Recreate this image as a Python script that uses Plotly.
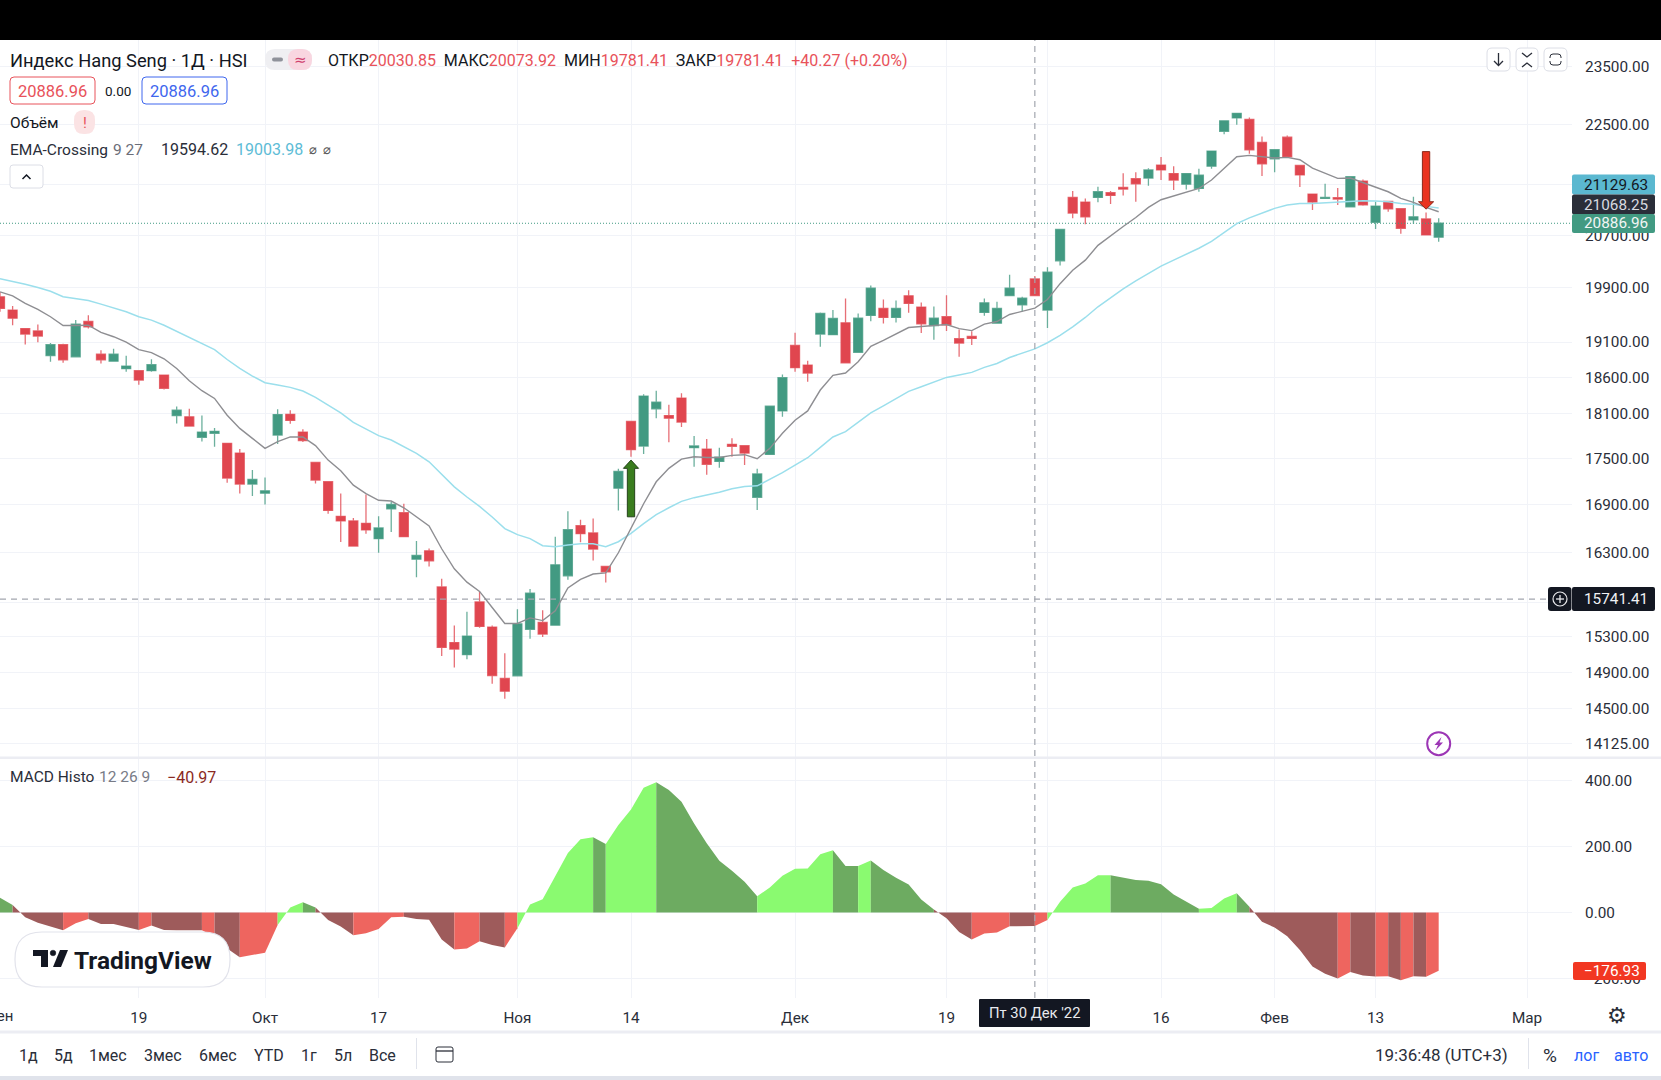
import math
import plotly.graph_objects as go

W, H = 1661, 1080

# ---------- price data (Hang Seng, daily) ----------
bar_index = list(range(115))
open_ = [
 19763,19566,19296,19262,18909,19063,18890,19399,18927,18829,
 18722,18694,18694,18633,18073,18056,17780,17834,17700,17571,
 17165,17048,17811,18091,17851,17448,17196,16754,16696,16666,
 16475,16850,16800,16223,16325,15887,15236,15098,15708,15414,
 14830,14859,15388,15468,15437,16021,16637,16546,16134,17113,
 17993,17664,18165,18073,18313,17642,17624,17461,17687,17669,
 16995,17553,18137,19053,18773,19217,19208,19380,18955,19488,
 19591,19458,19777,19610,19340,19468,19149,19183,19532,19375,
 19782,19645,20030.85,19566,20305,21297,21223,21297,21372,21457,
 21599,21610,21821,21683,21511,21441,21804,22384,22610,22583,
 22196,21926,22285,21816,21351,21281,21292,21148,21561,20903,
 21234,21116,20940,20956,20670]
high = [
 19836,19625,19296,19355,19086,19077,19419,19492,18983,19007,
 18904,18694,18857,18633,18197,18165,18073,17905,17700,17624,
 17348,17252,18160,18146,17887,17448,17196,17043,16733,17030,
 16754,16935,16913,16446,16354,15984,15433,15593,15830,15433,
 15113,15624,15862,15612,16498,16817,16712,16725,16134,17365,
 18002,18364,18415,18220,18378,17798,17758,17642,17766,17669,
 17365,18202,18642,19237,18834,19532,19566,19738,19517,19930,
 19723,19708,19861,19679,19620,19787,19281,19257,19738,19689,
 20093,19763,20073.92,20206,20789,21399,21281,21468,21399,21688,
 21704,21770,21953,21804,21694,21760,22058,22561,22699,22616,
 22296,22075,22312,21821,21351,21517,21447,21632,21588,21228,
 21234,21116,21308,21058,20967]
low = [
 19542,19345,19067,19100,18820,18806,18890,19296,18796,18829,
 18680,18498,18680,18433,17967,17931,17723,17655,17182,17043,
 17013,16904,17691,17962,17718,17174,16787,16433,16383,16537,
 16300,16558,16500,16004,16134,15083,14952,15046,15407,14770,
 14604,14859,15281,15300,15437,15972,16429,16207,15940,16829,
 17522,17558,18038,17714,17918,17391,17287,17378,17522,17413,
 16833,17544,18056,18680,18540,19035,19208,18806,18955,19404,
 19370,19384,19527,19232,19134,19262,18890,19058,19483,19375,
 19782,19547,19781.41,19306,20234,20967,20871,21218,21191,21329,
 21228,21484,21577,21415,21425,21388,21760,22334,22494,22009,
 21644,21705,21942,21463,21095,21271,21175,21148,21164,20796,
 21068,20722,20881,20705,20599]
close = [
 19591,19448,19217,19188,19063,18848,19360,19321,18848,18927,
 18759,18563,18778,18447,18146,17931,17851,17860,17243,17165,
 17226,17078,18087,18007,17736,17217,16829,16696,16383,16583,
 16608,16904,16500,16268,16203,15180,15162,15311,15422,14863,
 14689,15452,15813,15334,16154,16587,16537,16346,16069,17330,
 17615,18341,18257,18038,17985,17665,17422,17518,17660,17571,
 17296,18202,18595,18736,18661,19517,19443,18806,19448,19890,
 19458,19591,19664,19365,19448,19350,19086,19154,19674,19591,
 19890,19743,19781.41,20132,20789,21047,20988,21388,21329,21431,
 21517,21743,21743,21577,21683,21655,22053,22561,22688,22075,
 21843,22075,21959,21661,21223,21297,21271,21632,21180,21159,
 21116,20807,20988,20705,20886.96]
ema9 = [
 19836,19777,19664,19576,19468,19340,19340,19345,19242,19178,
 19100,18993,18951,18862,18726,18554,18415,18308,18078,17900,
 17766,17633,17723,17785,17785,17669,17478,17339,17152,17043,
 16957,16948,16862,16746,16633,16350,16106,15944,15834,15643,
 15456,15456,15521,15490,15605,15874,15978,16042,16056,16301,
 16600,16913,17195,17370,17491,17522,17513,17513,17540,17549,
 17496,17633,17834,18011,18137,18424,18628,18661,18820,19039,
 19125,19217,19311,19325,19340,19355,19296,19267,19360,19399,
 19502,19551,19594.62,19723,19959,20163,20315,20543,20695,20837,
 20978,21138,21260,21319,21383,21441,21577,21771,21959,21981,
 21965,21937,21948,21909,21771,21688,21605,21610,21539,21457,
 21388,21281,21218,21138,21068.25]
ema27 = [
 20034,19994,19950,19900,19846,19763,19738,19708,19654,19600,
 19542,19468,19419,19345,19257,19164,19077,18993,18852,18726,
 18619,18526,18494,18461,18410,18322,18216,18109,17980,17887,
 17802,17744,17655,17567,17456,17291,17130,16999,16879,16746,
 16600,16525,16475,16388,16375,16396,16411,16411,16375,16437,
 16540,16662,16775,16862,16944,16991,17022,17061,17104,17135,
 17143,17226,17313,17413,17509,17647,17785,17856,17980,18109,
 18206,18308,18405,18470,18540,18600,18633,18670,18741,18796,
 18881,18941,19003.98,19091,19198,19321,19458,19615,19748,19880,
 20002,20113,20224,20315,20407,20498,20604,20748,20881,20972,
 21042,21122,21175,21201,21201,21212,21223,21244,21244,21239,
 21228,21201,21186,21154,21129.63]
macd = [
 44,22,-15,-31,-43,-54,-33,-20,-35,-35,
 -43,-53,-40,-53,-54,-54,-54,-74,-109,-136,
 -129,-122,-38,15,31,15,-23,-43,-69,-63,
 -50,-15,-13,-20,-22,-82,-112,-109,-87,-99,
 -106,-48,24,40,108,180,221,227,207,264,
 311,377,394,370,335,269,209,156,126,93,
 49,75,111,132,133,176,188,140,140,157,
 128,105,84,39,9,-18,-59,-82,-64,-61,
 -42,-41,-40.97,-23,32,75,87,112,112,106,
 98,96,85,54,32,11,13,42,58,17,
 -28,-46,-72,-114,-164,-186,-200,-180,-191,-194,
 -193,-205,-193,-195,-176.93]
# bar index where the MACD colour changes, and the state of each run
macd_breaks = [0,1,5,7,11,12,16,17,19,22,24,25,28,32,36,38,40,41,47,48,52,60,66,68,69,74,77,80,82,83,88,95,98,99,106,107,109,110,111,112,113,114]
macd_states = ["dg","dr","lr","dr","lr","dr","lr","dr","lr","lg","dg","dr","lr","dr","lr","dr","lr","lg","dg","lg","dg","lg","dg","lg","dg","dr","lr","dr","lr","lg","dg","lg","dg","dr","lr","dr","lr","dr","lr","dr","lr"]

# signal arrows: bar, tail price, head base price, tip price
signal_up = (50, 16748, 17370, 17478)
signal_down = (113, 22044, 21228, 21110)

crosshair_bar = 82
crosshair_price = 15741.41
last_price = 20886.96

price_ticks = [23500,22500,21500,20700,19900,19100,18600,18100,17500,16900,16300,15700,15300,14900,14500,14125]
price_tick_text = ["23500.00","22500.00","","20700.00","19900.00","19100.00","18600.00","18100.00","17500.00","16900.00","16300.00","","15300.00","14900.00","14500.00","14125.00"]
macd_ticks = [400,200,0,-200]
macd_tick_text = ["400.00","200.00","0.00","−200.00"]
time_ticks = [0,11,21,30,41,50,63,75,83,92,101,109,121]
time_tick_text = ["","19","Окт","17","Ноя","14","Дек","19","","16","Фев","13","Мар"]

# ---------- layout helpers ----------
UP, DOWN = "#429A82", "#E0464F"
UP_EDGE, DOWN_EDGE = "rgba(66,154,130,0.78)", "rgba(224,70,79,0.78)"
GRID = "#F1F3F8"
FONT = "Roboto"
PLOT_R = 1572
bar_px = 12.62
x_range = [0, PLOT_R / bar_px]
fx = lambda x: x / W
fy = lambda y: 1 - y / H
PRICE_R = [math.log10(13979), math.log10(23975)]

def rounded(x0, y0, x1, y1, r):
    a, b, c, d = fx(x0), fy(y0), fx(x1), fy(y1)
    rx, ry = r / W, r / H
    return (f"M {a+rx} {b} L {c-rx} {b} Q {c} {b} {c} {b-ry} L {c} {d+ry} Q {c} {d} {c-rx} {d} "
            f"L {a+rx} {d} Q {a} {d} {a} {d+ry} L {a} {b-ry} Q {a} {b} {a+rx} {b} Z")

shapes, annos = [], []
def box(x0, y0, x1, y1, r=0, fill="white", line=None, lw=1):
    shapes.append(dict(type="path", xref="paper", yref="paper", path=rounded(x0, y0, x1, y1, r),
                       fillcolor=fill, line=dict(color=line or fill, width=lw if line else 0), layer="above"))
def rule(pts, color, lw=1.3):
    p = "M " + " L ".join(f"{fx(a)} {fy(b)}" for a, b in pts)
    shapes.append(dict(type="path", xref="paper", yref="paper", path=p, line=dict(color=color, width=lw), layer="above"))
def poly(pts, fill):
    p = "M " + " L ".join(f"{fx(a)} {fy(b)}" for a, b in pts) + " Z"
    shapes.append(dict(type="path", xref="paper", yref="paper", path=p, fillcolor=fill, line=dict(width=0), layer="above"))
def ring(cx, cy, r, color, lw, fill=None):
    shapes.append(dict(type="circle", xref="paper", yref="paper", x0=fx(cx-r), x1=fx(cx+r), y0=fy(cy+r), y1=fy(cy-r),
                       line=dict(color=color, width=lw), fillcolor=fill or "rgba(0,0,0,0)", layer="above"))
def label(text, x, y, size=15, color="#131722", anchor="left", family=FONT):
    annos.append(dict(text=text, x=fx(x), y=fy(y + 1), xref="paper", yref="paper", xanchor=anchor, yanchor="middle",
                      showarrow=False, font=dict(family=family, size=size, color=color), borderpad=0, borderwidth=0))

fig = go.Figure()

# MACD area runs
macd_colors = {"lg": "#8AFA70", "dg": "#6DAB61", "lr": "#EE655F", "dr": "#9E5B5B"}
for k, state in enumerate(macd_states):
    a, b = macd_breaks[k], macd_breaks[k + 1]
    fig.add_trace(go.Scatter(x=bar_index[a:b + 1], y=macd[a:b + 1], mode="lines", fill="tozeroy",
                             fillcolor=macd_colors[state], line=dict(width=0, color=macd_colors[state]),
                             xaxis="x", yaxis="y", showlegend=False, hoverinfo="skip"))

# reference lines
fig.add_trace(go.Scatter(x=x_range, y=[crosshair_price] * 2, mode="lines", xaxis="x2", yaxis="y2", showlegend=False,
                         line=dict(color="#A3A6AF", width=1.2, dash="6px 5px"), hoverinfo="skip"))
fig.add_trace(go.Scatter(x=x_range, y=[last_price] * 2, mode="lines", xaxis="x2", yaxis="y2", showlegend=False,
                         line=dict(color=UP, width=1, dash="1px 2px"), hoverinfo="skip"))

# EMA lines
fig.add_trace(go.Scatter(x=bar_index, y=ema27, mode="lines", line=dict(color="#9BDFEC", width=1.5),
                         xaxis="x2", yaxis="y2", showlegend=False, hoverinfo="skip"))
fig.add_trace(go.Scatter(x=bar_index, y=ema9, mode="lines", line=dict(color="#8E8E92", width=1.4),
                         xaxis="x2", yaxis="y2", showlegend=False, hoverinfo="skip"))

# candles
fig.add_trace(go.Candlestick(x=bar_index, open=open_, high=high, low=low, close=close,
                             increasing=dict(line=dict(color=UP_EDGE, width=1.3), fillcolor=UP),
                             decreasing=dict(line=dict(color=DOWN_EDGE, width=1.3), fillcolor=DOWN),
                             whiskerwidth=0, xaxis="x2", yaxis="y2", showlegend=False, hoverinfo="skip"))

# signal arrows
def arrow(sig, fill, edge):
    i, tail, base, tip = sig
    s, hw = 0.29, 0.6
    fig.add_trace(go.Scatter(x=[i-s, i+s, i+s, i+hw, i, i-hw, i-s, i-s],
                             y=[tail, tail, base, base, tip, base, base, tail],
                             mode="lines", fill="toself", fillcolor=fill, line=dict(color=edge, width=1),
                             xaxis="x2", yaxis="y2", showlegend=False, hoverinfo="skip"))
arrow(signal_up, "#3A7D1E", "#24421A")
arrow(signal_down, "#EA3420", "#8A2A1C")

# crosshair vertical
shapes.append(dict(type="line", xref="x", yref="paper", x0=crosshair_bar, x1=crosshair_bar, y0=fy(998), y1=fy(40),
                   line=dict(color="#A3A6AF", width=1.2, dash="6px 5px"), layer="above"))

# chrome: bars and separators
box(0, 0, W, 40, fill="#000000")
box(0, 756.5, W, 759, fill="#ECEDF3")
box(0, 1030.5, W, 1033.5, fill="#ECEDF3")
box(0, 1076, W, 1080, fill="#E0E3EB")

# header
red = "#E8525A"
label("Индекс Hang Seng · 1Д · HSI", 10, 59, size=18.3)
box(265, 49, 312, 70, r=10, fill="#EFEFF2")
box(288, 49, 312, 70, r=10, fill="#F9D6E0")
box(272, 57.5, 283, 61.5, r=2, fill="#8F929A")
label("≈", 300, 59, size=15, color="#D0406E", anchor="center", family="DejaVu Sans")
label(f"ОТКР<span style='color:{red}'>20030.85</span>\u00a0\u00a0МАКС<span style='color:{red}'>20073.92</span>\u00a0\u00a0"
      f"МИН<span style='color:{red}'>19781.41</span>\u00a0\u00a0ЗАКР<span style='color:{red}'>19781.41</span>\u00a0\u00a0"
      f"<span style='color:{red}'>+40.27 (+0.20%)</span>", 328, 59.5, size=16)
box(10, 77, 95, 104, r=4, line="#E8525A")
label("20886.96", 52.5, 90, size=16.5, color=red, anchor="center")
label("0.00", 118, 90, size=13.5, anchor="center")
box(142, 77, 227, 104, r=4, line="#3F67EE")
label("20886.96", 184.5, 90, size=16.5, color="#3F67EE", anchor="center")
label("Объём", 10, 121.5, size=15.5)
box(74, 110, 95, 134, r=10, fill="#FBE3E4")
label("!", 84.5, 121.5, size=15, color="#E8525A", anchor="center")
label("EMA-Crossing", 10, 148.5, size=15.5, color="#2A2E39")
label("9 27", 113, 148.5, size=15.5, color="#6A6D78")
label("19594.62", 161, 148.5, size=16, color="#2A2E39")
label("19003.98", 236, 148.5, size=16, color="#5DBCD6")
label("⌀  ⌀", 309, 148.5, size=13, color="#555555")
box(10, 165, 43, 188, r=3, line="#DCDEE6")
rule([(22.5, 179), (26.5, 175), (30.5, 179)], "#131722", 1.5)

# top-right buttons
for a, b in [(1487, 1510), (1516, 1538), (1544, 1567)]:
    box(a, 48, b, 71, r=5, line="#DCDEE6")
rule([(1498.5, 53), (1498.5, 65)], "#2A2E39"); rule([(1494, 61), (1498.5, 65.5), (1503, 61)], "#2A2E39")
rule([(1522, 53), (1527, 57), (1532, 53)], "#2A2E39"); rule([(1522, 67), (1527, 63), (1532, 67)], "#2A2E39")
box(1550, 54, 1561, 65, r=3, fill="rgba(255,255,255,0)", line="#2A2E39")
box(1547, 58, 1564, 61, fill="white")

# price tiles
def tile(text, cy, h, bg, fg, x0=1572, x1=1655, tx=1616):
    box(x0, cy - h / 2, x1, cy + h / 2, r=2, fill=bg)
    label(text, tx, cy - 1, size=15.3, color=fg, anchor="center")
tile("21129.63", 184.5, 20, "#5BB8D0", "#131722")
tile("21068.25", 204.5, 20, "#2A2E39", "#D8DAE0")
tile("20886.96", 223.5, 19, UP, "#F2F5F4")
box(1548, 587, 1571.5, 611, r=3, fill="#131722")
ring(1560, 599, 7, "#E8E8EC", 1.2)
rule([(1556, 599), (1564, 599)], "#E8E8EC"); rule([(1560, 595), (1560, 603)], "#E8E8EC")
tile("15741.41", 599, 24, "#131722", "#F0F1F5")
tile("−176.93", 971, 18, "#F23722", "white", x0=1573, x1=1646, tx=1612)

# lightning badge
ring(1438.7, 743.7, 11.5, "#9C36B5", 2, fill="white")
poly([(1441.5, 737), (1434.5, 745), (1438, 745), (1435.5, 750.5), (1443, 742.5), (1439.5, 742.5)], "#9C36B5")

# MACD legend and logo
label("MACD Histo", 10, 776, size=15.5, color="#2A2E39")
label("12 26 9", 98.5, 776, size=15.5, color="#787B86")
label("−40.97", 167, 776, size=16, color="#8B2A22")
box(15, 932, 230, 987, r=27, fill="white", line="#E2E3EB", lw=1.2)
poly([(33, 950), (48, 950), (48, 967), (41, 967), (41, 956), (33, 956)], "#131722")
ring(53, 953, 2.8, "#131722", 0.5, fill="#131722")
poly([(60, 950), (68, 950), (61, 967), (53, 967)], "#131722")
label("<b>TradingView</b>", 74, 959, size=24.5, color="#131722")

# time axis: label cut by the left edge, date tile
label("Сен", 13, 1015, size=15, color="#2A2E39", anchor="right")
box(979, 999, 1090, 1027, r=1, fill="#131722")
label("Пт 30 Дек '22", 1035, 1012, size=14.8, color="#E9EAEE", anchor="center")

# bottom toolbar
for t, x in [("1д", 28), ("5д", 63), ("1мес", 108), ("3мес", 163), ("6мес", 218), ("YTD", 269), ("1г", 309), ("5л", 343), ("Все", 382)]:
    label(t, x, 1054, size=16, anchor="center", color="#2A2E39")
box(416, 1038, 417, 1069, fill="#E0E3EB")
box(436, 1047, 453, 1062, r=2, line="#2A2E39")
rule([(436, 1051), (453, 1051)], "#2A2E39")
label("19:36:48 (UTC+3)", 1441.5, 1054, size=17, anchor="center", color="#2A2E39")
box(1528, 1038, 1529, 1069, fill="#E0E3EB")
label("%", 1550, 1054, size=19, anchor="center", color="#2A2E39")
label("лог", 1586, 1054, size=16, color="#2962FF", anchor="center")
label("авто", 1631, 1054, size=16, color="#2962FF", anchor="center")
label("⚙", 1617, 1014.5, size=22, color="#2A2E39", anchor="center", family="DejaVu Sans")

DOM_X = [0, PLOT_R / W]
tickfont = dict(family=FONT, size=15.3, color="#2A2E39")
fig.update_layout(
    width=W, height=H, margin=dict(l=0, r=0, t=0, b=0), paper_bgcolor="white", plot_bgcolor="white",
    showlegend=False, boxgap=0.29, boxgroupgap=0, shapes=shapes, annotations=annos, hovermode=False,
    xaxis=dict(domain=DOM_X, range=x_range, tickmode="array", tickvals=time_ticks, ticktext=time_tick_text,
               showgrid=True, gridcolor=GRID, gridwidth=1, zeroline=False, showline=False, ticks="outside",
               ticklen=6, tickcolor="white", tickfont=tickfont, anchor="y", fixedrange=True),
    xaxis2=dict(domain=DOM_X, range=x_range, matches="x", tickmode="array", tickvals=time_ticks, showticklabels=False,
                showgrid=True, gridcolor=GRID, gridwidth=1, zeroline=False, showline=False, ticks="",
                rangeslider=dict(visible=False), anchor="y2", fixedrange=True),
    yaxis=dict(domain=[fy(998), fy(759)], range=[-259, 464], side="right", tickmode="array", tickvals=macd_ticks,
               ticktext=macd_tick_text, showgrid=True, gridcolor=GRID, gridwidth=1, zeroline=False, showline=False,
               ticks="outside", ticklen=9, tickcolor="white", tickfont=tickfont, anchor="x", fixedrange=True),
    yaxis2=dict(domain=[fy(757), fy(40)], type="log", range=PRICE_R, side="right", tickmode="array", tickvals=price_ticks,
                ticktext=price_tick_text, showgrid=True, gridcolor=GRID, gridwidth=1, zeroline=False, showline=False,
                ticks="outside", ticklen=9, tickcolor="white", tickfont=tickfont, anchor="x2", fixedrange=True),
)
fig.write_html("out.html", config={"displayModeBar": False},
               post_script="document.body.style.margin='0';document.body.style.overflow='hidden';")
